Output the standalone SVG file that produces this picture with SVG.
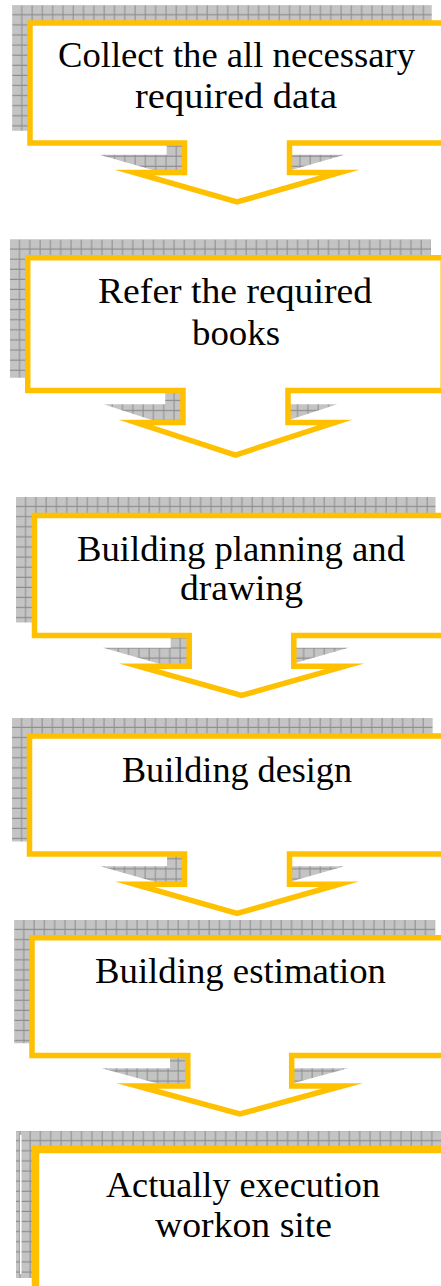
<svg xmlns="http://www.w3.org/2000/svg" xmlns:xlink="http://www.w3.org/1999/xlink" width="441" height="1286" viewBox="0 0 441 1286">
<style>
.box{fill:#ffffff;stroke:#FFC000;stroke-width:5.5;stroke-linejoin:miter;stroke-miterlimit:10}
.shadow{stroke-width:5.5;stroke-linejoin:miter;stroke-miterlimit:10}
.t{font-family:"Liberation Serif","DejaVu Serif",serif;font-size:35px;fill:#000000;text-anchor:middle}
</style>
<defs>
<pattern id="dots" patternUnits="userSpaceOnUse" width="2" height="2">
<rect width="2" height="2" fill="#d2d2d2"/>
<rect width="1" height="1" fill="#b6b6b6"/>
<rect x="1" y="1" width="1" height="1" fill="#b6b6b6"/>
</pattern>
<pattern id="grid" patternUnits="userSpaceOnUse" width="10.3" height="10.1">
<rect width="10.3" height="10.1" fill="url(#dots)"/>
<path d="M0,9.5H10.3M9.5,0V10.1" stroke="#8c8c8c" stroke-width="1" fill="none"/>
</pattern>
<pattern id="g1" xlink:href="#grid" x="27.25" y="20.25"/>
<pattern id="g2" xlink:href="#grid" x="25" y="255"/>
<pattern id="g3" xlink:href="#grid" x="31.75" y="512.75"/>
<pattern id="g4" xlink:href="#grid" x="26.75" y="733.25"/>
<pattern id="g5" xlink:href="#grid" x="29.25" y="935"/>
<pattern id="g6" xlink:href="#grid" x="31.75" y="1145.75"/>
<path id="p1" d="M30,23 H444 V143 H289.5 V172.5 H340 L237,202 L134,172.5 H184.5 V143 H30 Z"/>
<path id="p2" d="M27.75,257.75 H443.25 V390.5 H288 V422.5 H335 L235.5,455 L136,422.5 H183 V390.5 H27.75 Z"/>
<path id="p3" d="M34.5,515.5 H448.5 V635.5 H293.8 V666.3 H344.5 L241.5,695.5 L138.5,666.3 H189.2 V635.5 H34.5 Z"/>
<path id="p4" d="M29.5,736 H444.5 V854 H289.5 V884.2 H339.5 L237,913.5 L134.5,884.2 H184.5 V854 H29.5 Z"/>
<path id="p5" d="M32,937.75 H447.5 V1055.5 H291.7 V1086 H342.5 L239.75,1114 L137,1086 H187.8 V1055.5 H32 Z"/>
<path id="p6" d="M35.5,1149.5 H452 V1300 H35.5 Z"/>
</defs>

<g id="connectors"></g>

<g id="node1">
<use xlink:href="#p1" class="shadow" fill="url(#g1)" stroke="url(#g1)" transform="translate(-15,-15)"/>
<use xlink:href="#p1" class="box"/>
<text class="t" x="236.5" y="67" textLength="357" lengthAdjust="spacingAndGlyphs">Collect the all necessary</text>
<text class="t" x="236" y="108" textLength="202" lengthAdjust="spacingAndGlyphs">required data</text>
</g>

<g id="node2">
<use xlink:href="#p2" class="shadow" fill="url(#g2)" stroke="url(#g2)" transform="translate(-15,-15.5)"/>
<use xlink:href="#p2" class="box"/>
<text class="t" x="235" y="303" textLength="274" lengthAdjust="spacingAndGlyphs">Refer the required</text>
<text class="t" x="236" y="345" textLength="88" lengthAdjust="spacingAndGlyphs">books</text>
</g>

<g id="node3">
<use xlink:href="#p3" class="shadow" fill="url(#g3)" stroke="url(#g3)" transform="translate(-15.7,-15.7)"/>
<use xlink:href="#p3" class="box"/>
<text class="t" x="241" y="561" textLength="328" lengthAdjust="spacingAndGlyphs">Building planning and</text>
<text class="t" x="241.5" y="600" textLength="123" lengthAdjust="spacingAndGlyphs">drawing</text>
</g>

<g id="node4">
<use xlink:href="#p4" class="shadow" fill="url(#g4)" stroke="url(#g4)" transform="translate(-14.7,-15.3)"/>
<use xlink:href="#p4" class="box"/>
<text class="t" x="237" y="782" textLength="230" lengthAdjust="spacingAndGlyphs">Building design</text>
</g>

<g id="node5">
<use xlink:href="#p5" class="shadow" fill="url(#g5)" stroke="url(#g5)" transform="translate(-15,-15)"/>
<use xlink:href="#p5" class="box"/>
<text class="t" x="240.5" y="983" textLength="291" lengthAdjust="spacingAndGlyphs">Building estimation</text>
</g>

<g id="node6">
<rect x="16" y="1131" width="430" height="147" fill="url(#grid)"/>
<rect x="20" y="1135" width="1.5" height="139" fill="#ffffff"/>
<use xlink:href="#p6" class="box" style="stroke-width:7.5"/>
<text class="t" x="243" y="1197" textLength="274" lengthAdjust="spacingAndGlyphs">Actually execution</text>
<text class="t" x="243.5" y="1237" textLength="177" lengthAdjust="spacingAndGlyphs">workon site</text>
</g>
</svg>
